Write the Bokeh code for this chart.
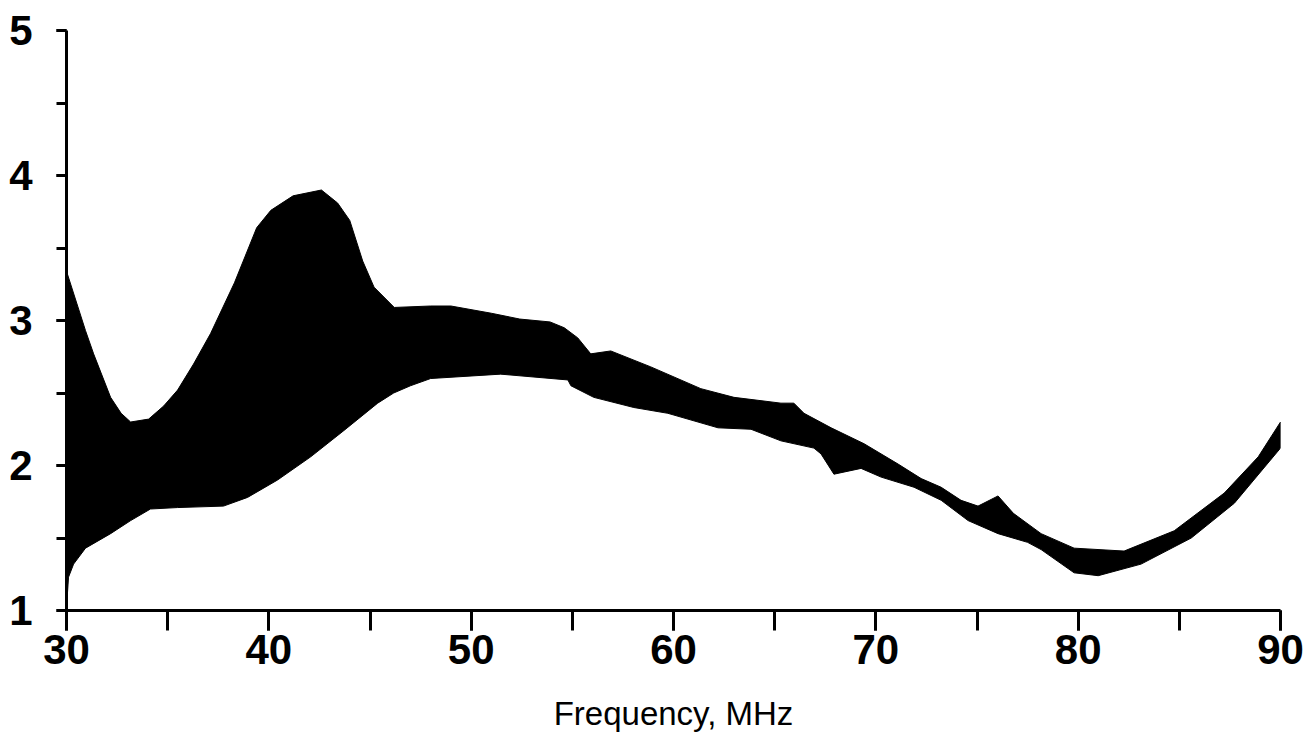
from bokeh.plotting import figure
from bokeh.models import Range1d, SingleIntervalTicker
from bokeh.embed import file_html
from bokeh.resources import INLINE

# Upper boundary of the band (frequency MHz, value)
upper_x = [30.0, 30.94, 31.34, 32.18, 32.7, 33.17, 34.06, 34.8, 35.49, 36.28, 37.12, 38.3,
           39.4, 40.1, 41.2, 42.6, 43.4, 44.0, 44.64, 45.2, 46.2, 48.0, 49.0, 51.0, 52.4,
           53.9, 54.6, 55.27, 55.91, 56.9, 58.88, 61.35, 62.99, 65.31, 65.95, 66.45, 67.79,
           69.42, 71.1, 72.24, 73.23, 74.21, 75.05, 76.04, 76.8, 78.17, 79.8, 82.27, 84.75,
           87.22, 88.9, 90.0]
upper_y = [3.34, 2.93, 2.77, 2.47, 2.36, 2.30, 2.32, 2.41, 2.52, 2.70, 2.91, 3.26,
           3.64, 3.76, 3.86, 3.90, 3.81, 3.69, 3.41, 3.23, 3.09, 3.10, 3.10, 3.05, 3.01,
           2.99, 2.95, 2.88, 2.77, 2.79, 2.68, 2.53, 2.47, 2.43, 2.43, 2.36, 2.26,
           2.15, 2.01, 1.91, 1.85, 1.76, 1.72, 1.79, 1.67, 1.53, 1.43, 1.41, 1.55,
           1.81, 2.06, 2.30]

# Lower boundary of the band
lower_x = [30.0, 30.1, 30.35, 30.94, 32.18, 33.17, 34.15, 35.49, 37.76, 38.95, 40.43, 42.07,
           43.7, 45.38, 46.17, 47.0, 48.0, 51.46, 54.78, 54.93, 56.06, 58.04, 59.72, 62.2,
           63.83, 65.31, 66.94, 67.29, 67.93, 69.27, 70.26, 71.89, 73.23, 74.56, 76.04, 77.5,
           78.17, 79.8, 80.99, 83.11, 85.59, 87.72, 90.0]
lower_y = [1.02, 1.23, 1.32, 1.43, 1.53, 1.62, 1.70, 1.71, 1.72, 1.78, 1.90, 2.06,
           2.24, 2.43, 2.50, 2.55, 2.60, 2.63, 2.59, 2.55, 2.47, 2.40, 2.36, 2.26,
           2.25, 2.17, 2.12, 2.08, 1.94, 1.98, 1.92, 1.85, 1.76, 1.62, 1.53, 1.47,
           1.42, 1.26, 1.24, 1.32, 1.50, 1.74, 2.12]

x_label = "Frequency, MHz"

p = figure(width=1308, height=738, x_range=Range1d(30, 90), y_range=Range1d(1, 5),
           output_backend="svg", toolbar_location=None,
           min_border_left=66, min_border_right=28, min_border_top=30, min_border_bottom=128)
p.outline_line_color = None
p.grid.visible = False
p.background_fill_color = "white"
p.border_fill_color = "white"

xs = upper_x + lower_x[::-1]
ys = upper_y + lower_y[::-1]
p.patch(xs, ys, fill_color="black", line_color="black", line_width=1)

p.xaxis.ticker = SingleIntervalTicker(interval=10, num_minor_ticks=2)
p.yaxis.ticker = SingleIntervalTicker(interval=1, num_minor_ticks=2)

for ax in (p.xaxis, p.yaxis):
    ax.axis_line_width = 3
    ax.axis_line_color = "black"
    ax.major_tick_line_width = 3
    ax.minor_tick_line_width = 3
    ax.major_tick_line_color = "black"
    ax.minor_tick_line_color = "black"
    ax.major_tick_in = 0
    ax.minor_tick_in = 0
    ax.major_label_text_font = "Liberation Sans"
    ax.major_label_text_font_style = "bold"
    ax.major_label_text_font_size = "42px"
    ax.major_label_text_color = "black"

p.xaxis.major_tick_out = 20
p.xaxis.minor_tick_out = 20
p.xaxis.major_label_standoff = 4
p.yaxis.major_tick_out = 10
p.yaxis.minor_tick_out = 10
p.yaxis.major_label_standoff = 24

p.xaxis.axis_label = x_label
p.xaxis.axis_label_text_font = "Liberation Sans"
p.xaxis.axis_label_text_font_style = "normal"
p.xaxis.axis_label_text_font_size = "33px"
p.xaxis.axis_label_text_color = "black"
p.xaxis.axis_label_standoff = 28

open("out.html", "w").write(file_html(p, INLINE))
